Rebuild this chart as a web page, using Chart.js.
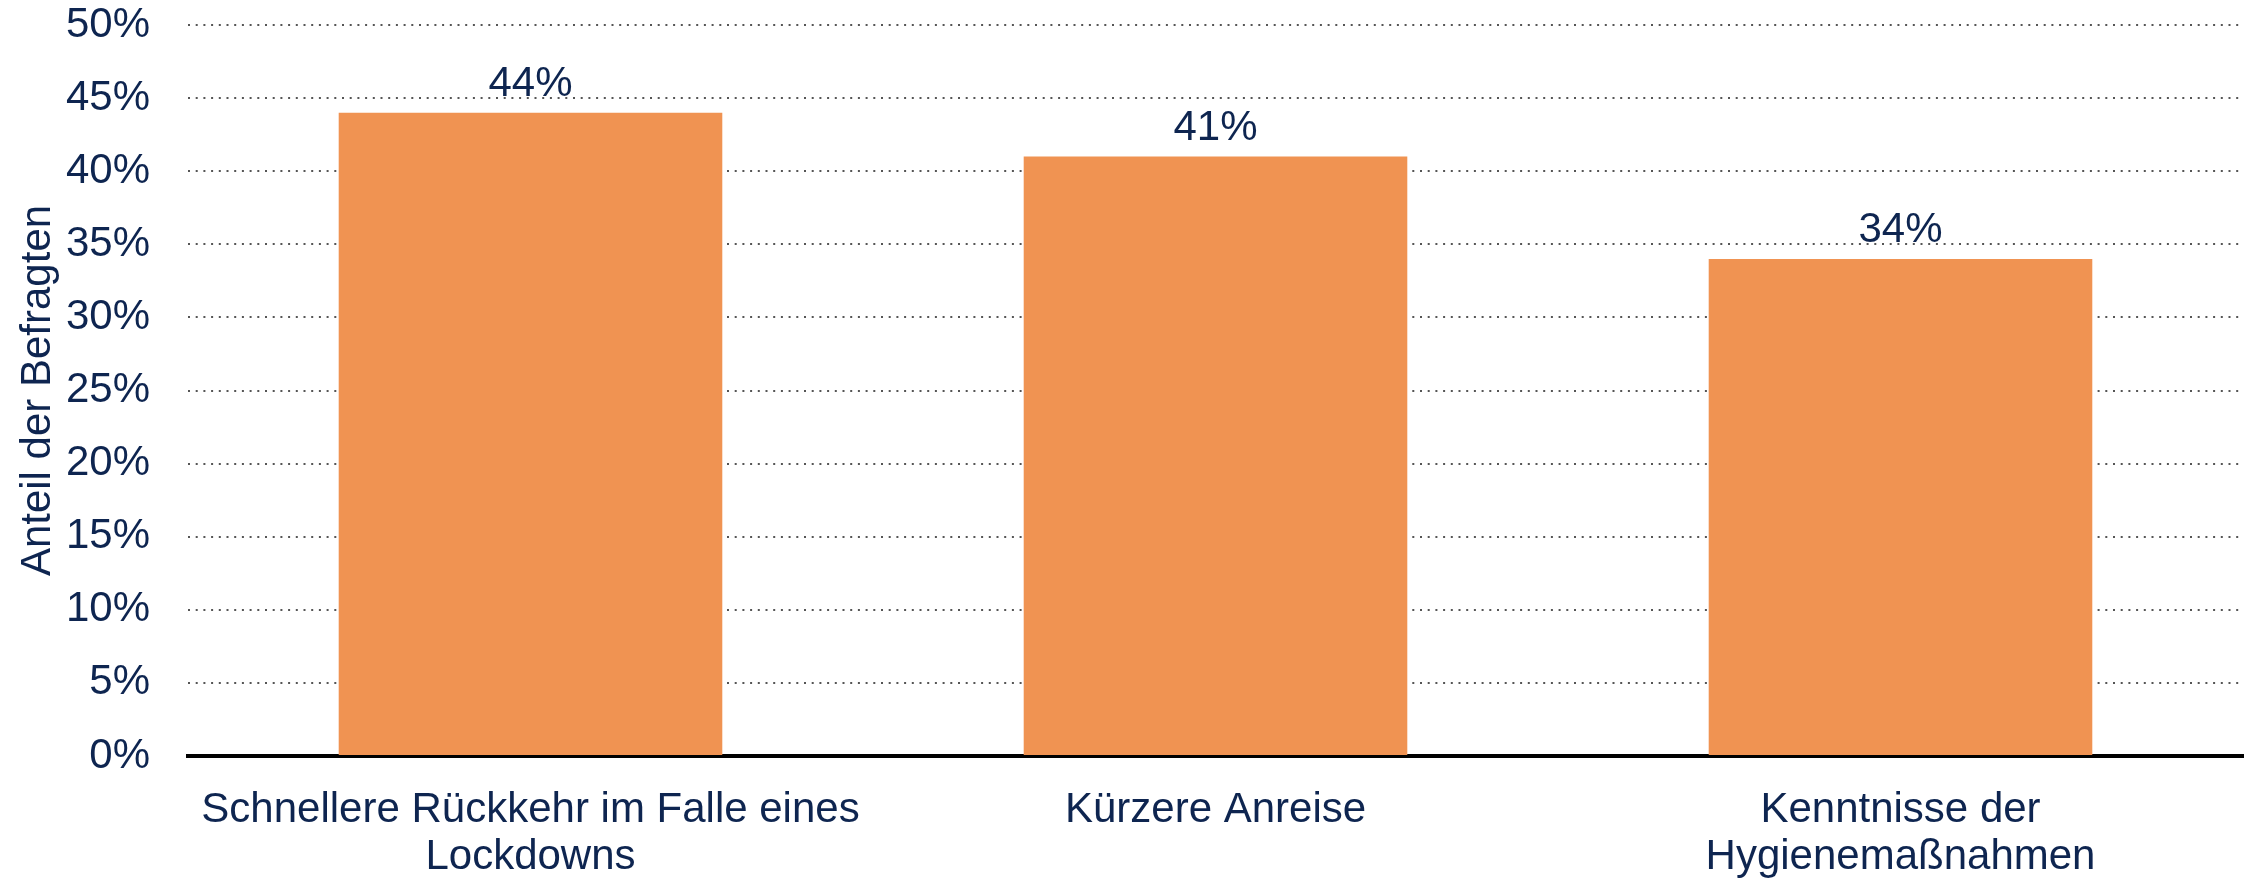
<!DOCTYPE html>
<html lang="de">
<head>
<meta charset="utf-8">
<title>Anteil der Befragten</title>
<script src="https://cdn.jsdelivr.net/npm/chart.js@4/dist/chart.umd.min.js"></script>
<style>
  html, body { margin: 0; padding: 0; background: #ffffff; }
  #wrap { width: 2255px; height: 878px; }
</style>
</head>
<body>
<div id="wrap"><canvas id="chart" width="2255" height="878"></canvas></div>
<script>
// Daten
const categories = [
    ['Schnellere Rückkehr im Falle eines', 'Lockdowns'],
    'Kürzere Anreise',
    ['Kenntnisse der', 'Hygienemaßnahmen']
];
const shares = [44, 41, 34];
const yTicks = [0, 5, 10, 15, 20, 25, 30, 35, 40, 45, 50];

const textColor = '#0e2550';
const barColor = '#f09352';
const fontFamily = '"Liberation Sans", Arial, sans-serif';

// Werte über den Balken
const valueLabels = {
    id: 'valueLabels',
    afterDatasetsDraw(chart) {
        const ctx = chart.ctx;
        const meta = chart.getDatasetMeta(0);
        ctx.save();
        ctx.font = '42px ' + fontFamily;
        ctx.fillStyle = textColor;
        ctx.textAlign = 'center';
        ctx.textBaseline = 'alphabetic';
        meta.data.forEach((bar, i) => {
            ctx.fillText(shares[i] + '%', bar.x, bar.y - 17);
        });
        ctx.restore();
    }
};

const ctx = document.getElementById('chart').getContext('2d');
new Chart(ctx, {
    type: 'bar',
    data: {
        labels: categories,
        datasets: [{
            data: shares,
            backgroundColor: barColor,
            borderWidth: 0,
            barPercentage: 0.56,
            categoryPercentage: 1
        }]
    },
    options: {
        responsive: false,
        animation: false,
        layout: { padding: { left: 0, right: 12, top: 0, bottom: 0 } },
        plugins: {
            legend: { display: false },
            tooltip: { enabled: false }
        },
        scales: {
            x: {
                grid: { display: false, drawTicks: false },
                border: { display: true, color: '#000000', width: 4 },
                ticks: {
                    color: textColor,
                    font: { family: fontFamily, size: 42, lineHeight: 1.12 },
                    padding: 31,
                    maxRotation: 0,
                    autoSkip: false
                },
                afterFit(scale) { scale.height = 122; }
            },
            y: {
                min: 0,
                max: 50,
                afterBuildTicks(scale) { scale.ticks = yTicks.map(v => ({ value: v })); },
                grid: {
                    color: '#555555',
                    lineWidth: 2,
                    drawTicks: false
                },
                border: { display: false, dash: [2, 5.7] },
                ticks: {
                    color: textColor,
                    font: { family: fontFamily, size: 42 },
                    padding: 38,
                    callback: v => v + '%'
                },
                title: {
                    display: true,
                    text: 'Anteil der Befragten',
                    color: textColor,
                    font: { family: fontFamily, size: 42 },
                    padding: { top: 13, bottom: 0 }
                },
                afterFit(scale) {
                    scale.width = 188;
                    scale.paddingTop = 25;
                    scale.paddingBottom = 0;
                }
            }
        }
    },
    plugins: [valueLabels]
});
</script>
</body>
</html>
